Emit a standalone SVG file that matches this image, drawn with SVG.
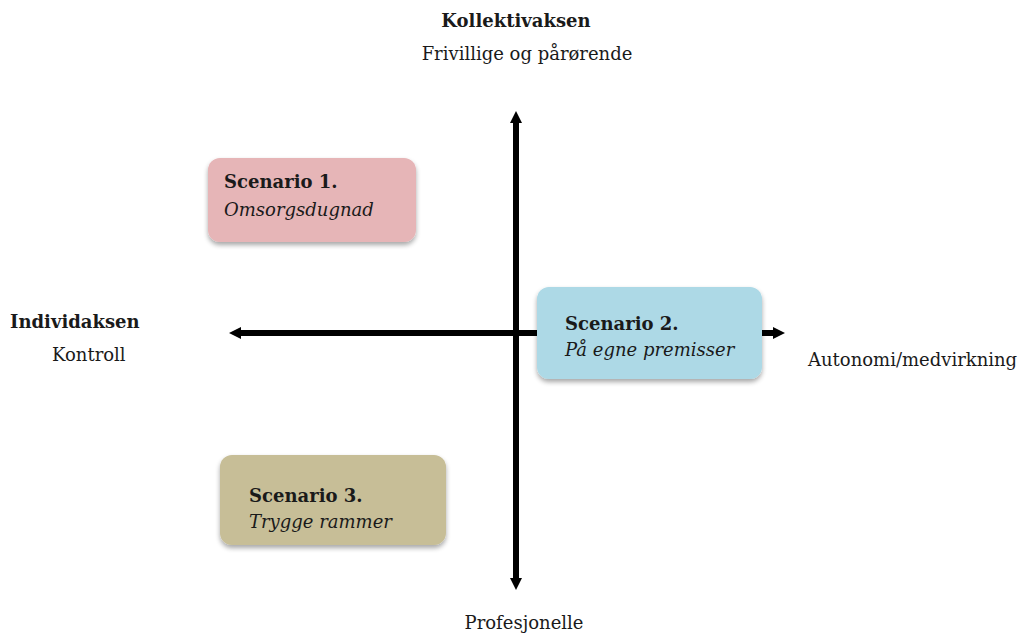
<svg xmlns="http://www.w3.org/2000/svg" width="1029" height="635" viewBox="0 0 1029 635">
<defs>
<style>
text{font-family:"DejaVu Serif","Liberation Serif",serif;font-size:18px;fill:#1a1a1a}
.b{font-weight:bold}
.i{font-style:italic}
.ax{stroke:#000;stroke-width:6;fill:none}
</style>
<marker id="ah" viewBox="0 0 10 10" refX="5" refY="5" markerWidth="2" markerHeight="2" orient="auto-start-reverse" markerUnits="strokeWidth">
<path d="M0,0 L10,5 L0,10 z" fill="#000"/>
</marker>
<filter id="sh" x="-10%" y="-10%" width="120%" height="130%">
<feGaussianBlur in="SourceAlpha" stdDeviation="2.5"/>
<feOffset dx="0" dy="3" result="o"/>
<feComponentTransfer><feFuncA type="linear" slope="0.35"/></feComponentTransfer>
<feMerge><feMergeNode/><feMergeNode in="SourceGraphic"/></feMerge>
</filter>
</defs>
<rect width="1029" height="635" fill="#fff"/>
<g id="connectors">
<line class="ax" x1="516" y1="117" x2="516" y2="584" marker-start="url(#ah)" marker-end="url(#ah)"/>
<line class="ax" x1="235" y1="333" x2="779" y2="333" marker-start="url(#ah)" marker-end="url(#ah)"/>
</g>
<g id="labels">
<text class="b" x="516" y="27" text-anchor="middle">Kollektivaksen</text>
<text x="527" y="60" text-anchor="middle">Frivillige og pårørende</text>
<text class="b" x="10" y="328">Individaksen</text>
<text x="52" y="361">Kontroll</text>
<text x="808" y="366">Autonomi/medvirkning</text>
<text x="524" y="629" text-anchor="middle">Profesjonelle</text>
</g>
<g id="scenario1">
<rect x="208" y="158" width="208" height="84" rx="12" fill="#E6B5B7" filter="url(#sh)"/>
<text class="b" x="224" y="188">Scenario 1.</text>
<text class="i" x="224" y="216">Omsorgsdugnad</text>
</g>
<g id="scenario2">
<rect x="537" y="287" width="225" height="92" rx="12" fill="#ADD9E6" filter="url(#sh)"/>
<text class="b" x="565" y="330">Scenario 2.</text>
<text class="i" x="565" y="356">På egne premisser</text>
</g>
<g id="scenario3">
<rect x="220" y="455" width="226" height="90" rx="12" fill="#C7BE97" filter="url(#sh)"/>
<text class="b" x="249" y="502">Scenario 3.</text>
<text class="i" x="249" y="528">Trygge rammer</text>
</g>
</svg>
